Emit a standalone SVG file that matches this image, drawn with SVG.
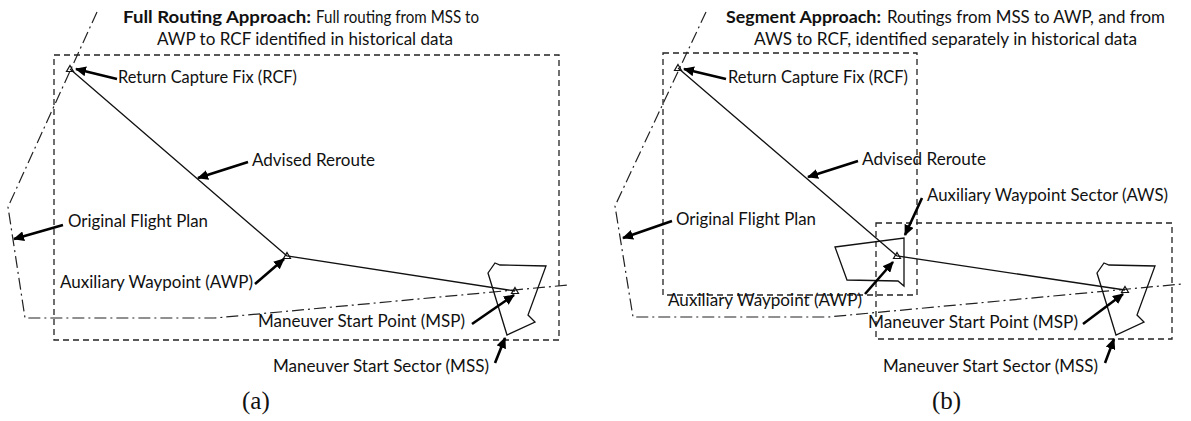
<svg xmlns="http://www.w3.org/2000/svg" width="1191" height="421" viewBox="0 0 1191 421">
<defs>
<marker id="ah" markerUnits="userSpaceOnUse" markerWidth="12" markerHeight="10" refX="10" refY="5" orient="auto">
<path d="M0,0 L11,5 L0,10 Z" fill="#000"/>
</marker>
<style>
.t{font-family:Lato,"Open Sans","Liberation Sans",sans-serif;font-size:17.5px;fill:#111}
.b{font-weight:bold}
.cap{font-family:"Liberation Serif",serif;font-size:25px;fill:#111}
.box{fill:none;stroke:#222;stroke-width:1.3;stroke-dasharray:6,4}
.fp{fill:none;stroke:#222;stroke-width:1.2;stroke-dasharray:12,4,2,4}
.rt{fill:none;stroke:#111;stroke-width:1.3}
.sec{fill:none;stroke:#111;stroke-width:1.3}
.wp{fill:none;stroke:#111;stroke-width:1.2}
.ar{stroke:#000;stroke-width:2.6;fill:none;marker-end:url(#ah)}
</style>
</defs>
<rect width="1191" height="421" fill="#fff"/>

<!-- Panel (a) -->
<g id="panel-a">
<g id="a-title">
<text class="t b" x="123" y="23" textLength="188" lengthAdjust="spacingAndGlyphs">Full Routing Approach:</text>
<text class="t" x="316" y="23" textLength="163" lengthAdjust="spacingAndGlyphs">Full routing from MSS to</text>
<text class="t" x="157" y="45" textLength="296" lengthAdjust="spacingAndGlyphs">AWP to RCF identified in historical data</text>
</g>
<g id="a-region"><rect class="box" x="54" y="55" width="505" height="285"/></g>
<g id="a-flightplan"><polyline class="fp" points="97,12 8,207 25,318 215,318 568,285"/></g>
<g id="a-mss"><polygon class="sec" points="495,263 500,265 546,266 528,315 535,322 507,335 488,273"/></g>
<g id="a-route">
<polyline class="rt" points="70,69 287,256 515,291"/>
</g>
<g id="a-rcf"><path class="wp" d="M70,65.5 L73.5,71.5 L66.5,71.5 Z"/></g>
<g id="a-awp"><path class="wp" d="M287,252.5 L290.5,258.5 L283.5,258.5 Z"/></g>
<g id="a-msp"><path class="wp" d="M515,287.5 L518.5,293.5 L511.5,293.5 Z"/></g>
<g id="a-labels">
<text class="t" x="118" y="83" textLength="179" lengthAdjust="spacingAndGlyphs">Return Capture Fix (RCF)</text>
<text class="t" x="252" y="166" textLength="123" lengthAdjust="spacingAndGlyphs">Advised Reroute</text>
<text class="t" x="68" y="227" textLength="140" lengthAdjust="spacingAndGlyphs">Original Flight Plan</text>
<text class="t" x="60" y="288" textLength="193" lengthAdjust="spacingAndGlyphs">Auxiliary Waypoint (AWP)</text>
<text class="t" x="258" y="327" textLength="207" lengthAdjust="spacingAndGlyphs">Maneuver Start Point (MSP)</text>
<text class="t" x="273" y="372" textLength="216" lengthAdjust="spacingAndGlyphs">Maneuver Start Sector (MSS)</text>
<text class="cap" x="242" y="409">(a)</text>
</g>
</g>

<!-- Panel (b) -->
<g id="panel-b">
<g id="b-title">
<text class="t b" x="726" y="23" textLength="155" lengthAdjust="spacingAndGlyphs">Segment Approach:</text>
<text class="t" x="887" y="23" textLength="278" lengthAdjust="spacingAndGlyphs">Routings from MSS to AWP,  and from</text>
<text class="t" x="754" y="45" textLength="383" lengthAdjust="spacingAndGlyphs">AWS to RCF, identified separately in historical data</text>
</g>
<g id="b-region-rcf"><rect class="box" x="663" y="53" width="254" height="242"/></g>
<g id="b-region-mss"><rect class="box" x="876" y="223" width="296" height="116"/></g>
<g id="b-flightplan"><polyline class="fp" points="706,12 615,206 633,317 828,317 1182,284"/></g>
<g id="b-aws"><polygon class="sec" points="835,247 904,238 904,286 898,281 847,280"/></g>
<g id="b-mss"><polygon class="sec" points="1104,263 1109,265 1155,266 1137,315 1144,322 1116,335 1097,273"/></g>
<g id="b-route">
<polyline class="rt" points="678,68 897,256 1125,290"/>
</g>
<g id="b-rcf"><path class="wp" d="M678,64.5 L681.5,70.5 L674.5,70.5 Z"/></g>
<g id="b-awp"><path class="wp" d="M897,252.5 L900.5,258.5 L893.5,258.5 Z"/></g>
<g id="b-msp"><path class="wp" d="M1125,286.5 L1128.5,292.5 L1121.5,292.5 Z"/></g>
<g id="b-labels">
<text class="t" x="728" y="83" textLength="180" lengthAdjust="spacingAndGlyphs">Return Capture Fix (RCF)</text>
<text class="t" x="862" y="165" textLength="124" lengthAdjust="spacingAndGlyphs">Advised Reroute</text>
<text class="t" x="676" y="225" textLength="140" lengthAdjust="spacingAndGlyphs">Original Flight Plan</text>
<text class="t" x="927" y="201" textLength="241" lengthAdjust="spacingAndGlyphs">Auxiliary  Waypoint Sector (AWS)</text>
<text class="t" x="668" y="306" textLength="194" lengthAdjust="spacingAndGlyphs">Auxiliary Waypoint (AWP)</text>
<text class="t" x="868" y="328" textLength="210" lengthAdjust="spacingAndGlyphs">Maneuver Start Point (MSP)</text>
<text class="t" x="883" y="372" textLength="215" lengthAdjust="spacingAndGlyphs">Maneuver Start Sector (MSS)</text>
<text class="cap" x="932" y="409">(b)</text>
</g>
</g>

<!-- Connectors (label arrows) -->
<g id="connectors">
<line class="ar" x1="117" y1="79" x2="76" y2="69"/>
<line class="ar" x1="248" y1="162" x2="198" y2="178"/>
<line class="ar" x1="63" y1="225" x2="14" y2="239"/>
<line class="ar" x1="255" y1="284" x2="284" y2="259"/>
<line class="ar" x1="472" y1="324" x2="514" y2="295"/>
<line class="ar" x1="495" y1="363" x2="505" y2="338"/>

<line class="ar" x1="726" y1="79" x2="684" y2="69"/>
<line class="ar" x1="858" y1="161" x2="808" y2="177"/>
<line class="ar" x1="672" y1="221" x2="623" y2="238"/>
<line class="ar" x1="922" y1="198" x2="905" y2="235"/>
<line class="ar" x1="865" y1="294" x2="893" y2="262"/>
<line class="ar" x1="1083" y1="324" x2="1123" y2="294"/>
<line class="ar" x1="1105" y1="363" x2="1114" y2="339"/>
</g>
</svg>
